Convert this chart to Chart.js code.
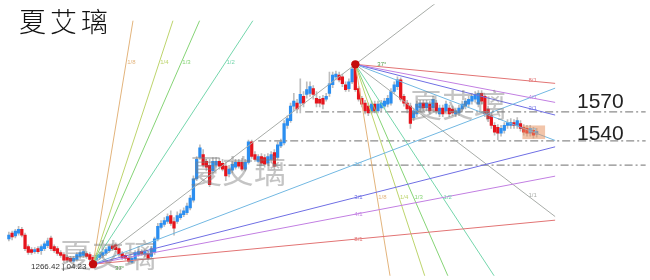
<!DOCTYPE html>
<html>
<head>
<meta charset="utf-8">
<script src="https://cdn.jsdelivr.net/npm/chart.js@4.4.0/dist/chart.umd.min.js"></script>
<style>
  html, body { margin: 0; padding: 0; background: #fff; }
  canvas { display: block; }
</style>
</head>
<body>
<canvas id="grafico" width="650" height="280"></canvas>
<script>
// velas: apertura / maximo / minimo / cierre
const aperturas = [
  1439,1445,1442,1445,1449,1443,1431,1428,1426,1429, 1427,1429,1432,1440,1431,1429,1425,1423,1420,1419,
  1416,1418,1421,1422,1424,1423,1420,1418,1420,1422, 1424,1427,1432,1433,1429,1424,1422,1419,1415,1418,
  1423,1426,1423,1424,1421,1425,1439,1451,1454,1457, 1463,1457,1457,1461,1464,1466,1471,1479,1501,1523,
  1526,1519,1515,1509,1515,1519,1517,1514,1506,1510, 1513,1518,1518,1511,1518,1539,1526,1519,1524,1523,
  1517,1521,1528,1523,1535,1538,1556,1561,1576,1579, 1579,1586,1588,1589,1594,1584,1583,1584,1583,1589,
  1598,1606,1608,1606,1598,1594,1601,1616,1594,1584, 1579,1576,1571,1578,1571,1574,1576,1578,1579,1591,
  1596,1603,1586,1579,1576,1564,1568,1574,1579,1574, 1578,1574,1579,1568,1574,1571,1574,1573,1568,1569,
  1573,1576,1578,1581,1583,1578,1589,1586,1573,1566, 1556,1554,1548,1551,1556,1556,1559,1556,1558,1554,
  1553,1548,1551,1547
];
const maximos = [
  1446,1447,1449,1452,1451,1445,1433,1430,1430,1431, 1433,1436,1440,1442,1433,1431,1427,1425,1422,1421,
  1421,1425,1427,1428,1426,1425,1422,1424,1425,1427, 1430,1433,1434,1435,1431,1426,1424,1421,1421,1427,
  1428,1428,1428,1426,1431,1441,1455,1458,1461,1465, 1468,1461,1467,1469,1471,1476,1484,1504,1524,1536,
  1531,1521,1521,1523,1523,1522,1521,1518,1515,1519, 1521,1521,1522,1521,1541,1541,1529,1526,1527,1526,
  1527,1529,1531,1539,1542,1561,1566,1579,1589,1583, 1604,1591,1601,1601,1597,1591,1586,1587,1589,1611,
  1611,1612,1611,1609,1601,1604,1617,1619,1596,1586, 1582,1579,1581,1581,1581,1582,1584,1587,1594,1601,
  1606,1605,1588,1582,1579,1574,1581,1582,1582,1582, 1581,1586,1582,1577,1577,1581,1577,1576,1574,1577,
  1581,1584,1586,1589,1591,1592,1592,1589,1576,1569, 1559,1557,1556,1559,1562,1563,1562,1564,1561,1557,
  1556,1556,1554,1553
];
const minimos = [
  1437,1438,1440,1443,1441,1427,1423,1423,1424,1424, 1423,1427,1430,1427,1425,1422,1420,1415,1415,1415,
  1414,1416,1419,1420,1419,1416,1413,1415,1418,1420, 1422,1425,1427,1426,1421,1418,1417,1414,1414,1416,
  1421,1422,1421,1417,1419,1423,1437,1449,1452,1455, 1453,1443,1455,1459,1462,1464,1469,1477,1499,1521,
  1513,1509,1493,1505,1513,1511,1509,1499,1503,1507, 1511,1512,1509,1509,1516,1522,1519,1517,1515,1513,
  1515,1518,1511,1521,1533,1536,1553,1559,1571,1569, 1569,1575,1584,1586,1583,1575,1575,1573,1581,1586,
  1595,1603,1601,1596,1591,1591,1599,1591,1581,1575, 1568,1566,1568,1569,1569,1571,1573,1575,1577,1589,
  1593,1581,1576,1569,1553,1561,1565,1571,1571,1571, 1568,1571,1568,1565,1565,1568,1565,1566,1565,1566,
  1570,1573,1575,1578,1580,1575,1578,1565,1560,1553, 1546,1541,1545,1548,1553,1553,1553,1553,1550,1546,
  1545,1545,1543,1544
];
const cierres = [
  1443,1441,1447,1449,1443,1429,1425,1425,1428,1426, 1431,1434,1437,1429,1427,1424,1422,1417,1417,1416,
  1419,1423,1425,1426,1421,1418,1415,1422,1423,1425, 1428,1431,1429,1428,1423,1420,1419,1416,1419,1425,
  1426,1424,1426,1419,1429,1439,1452,1455,1458,1462, 1455,1450,1463,1465,1468,1473,1481,1501,1521,1533,
  1515,1513,1495,1519,1519,1514,1511,1504,1511,1516, 1518,1514,1511,1518,1539,1524,1521,1524,1517,1516,
  1524,1526,1514,1536,1539,1558,1563,1576,1581,1573, 1588,1579,1593,1596,1588,1579,1579,1578,1586,1599,
  1608,1609,1603,1599,1593,1601,1614,1593,1583,1578, 1571,1569,1578,1571,1578,1579,1581,1584,1591,1598,
  1603,1583,1579,1573,1558,1571,1578,1579,1574,1579, 1571,1583,1571,1574,1568,1578,1568,1569,1571,1574,
  1578,1581,1583,1586,1588,1589,1581,1568,1563,1556, 1549,1548,1553,1556,1559,1559,1556,1561,1553,1549,
  1548,1553,1546,1550
];

// abanico de Gann
const fanRatios = ['1/8', '1/4', '1/3', '1/2', '1/1', '2/1', '3/1', '4/1', '8/1'];
const fanColors = ['#e3b47c', '#bdd46c', '#86d476', '#74d6ac', '#a8aca8', '#72b8e2', '#6f6fe4', '#c27fe2', '#e27474'];
const fanEnd = 168.7;
const fanTop = 1664;

// niveles horizontales
const levels = [1570, 1540, 1515];
const levelStarts = [91.5, 77, 76.5];
const levelLabels = ['1570', '1540'];

// caja
const boxTime = [158.6, 165.6];
const boxPrice = [1542, 1556];

const lowText = '1266.42 | 04.23';
const marca = '夏艾璃';

const xMin = -1.44, xMax = 196.7;
const yMin = 1401, yMax = 1681;

const rojo = '#e5141c';
const azul = '#2b8ef0';

const lowIdx = minimos.indexOf(Math.min(...minimos));
const highIdx = maximos.indexOf(Math.max(...maximos));
const lowP = minimos[lowIdx];
const highP = maximos[highIdx];
const unit = (highP - lowP) / (highIdx - lowIdx);

function slopeOf(r) {
  const [a, b] = r.split('/').map(Number);
  return unit * b / a;
}

function linea(data, color, extra) {
  return Object.assign({
    type: 'line', data: data, borderColor: color, borderWidth: 1,
    pointRadius: 0, fill: false, tension: 0, order: 0
  }, extra || {});
}

const datasets = [];

// mechas
datasets.push({
  type: 'bar',
  data: aperturas.map((o, i) => ({ x: i, y: [minimos[i], maximos[i]] })),
  backgroundColor: '#bdbdbd', barThickness: 1, grouped: false, order: 3
});
// cuerpos
datasets.push({
  type: 'bar',
  data: aperturas.map((o, i) => ({ x: i, y: [o, cierres[i]] })),
  backgroundColor: aperturas.map((o, i) => cierres[i] >= o ? azul : rojo),
  barThickness: 2.6, grouped: false, order: 2
});

// niveles
levels.forEach((lv, k) => {
  datasets.push(linea([{ x: levelStarts[k], y: lv }, { x: xMax, y: lv }], '#8c8c8c',
    { borderWidth: 1.3, borderDash: [8, 3, 2, 3], order: 1 }));
});

// abanico desde el minimo (hacia arriba)
const fanUp = fanRatios.map((r, k) => {
  const s = slopeOf(r);
  let endX = r === '1/1' ? xMax : Math.min(fanEnd, lowIdx + (fanTop - lowP) / s);
  return { r, s, endX, color: fanColors[k] };
});
fanUp.forEach(f => {
  datasets.push(linea([{ x: lowIdx, y: lowP }, { x: f.endX, y: lowP + f.s * (f.endX - lowIdx) }], f.color));
});

// abanico desde el maximo (hacia abajo)
fanRatios.forEach((r, k) => {
  const s = slopeOf(r);
  datasets.push(linea([{ x: highIdx, y: highP }, { x: fanEnd, y: highP - s * (fanEnd - highIdx) }], fanColors[k]));
});

// puntos rojos
datasets.push({
  type: 'line', data: [{ x: lowIdx, y: lowP }, { x: highIdx, y: highP }],
  showLine: false, pointRadius: 4.2, pointBackgroundColor: '#c40c0c', pointBorderWidth: 0, order: -1
});

const textos = {
  id: 'textos',
  afterDatasetsDraw(chart) {
    const { ctx, scales: { x, y } } = chart;
    ctx.save();

    // caja naranja
    ctx.fillStyle = 'rgba(232,150,100,0.55)';
    const bx = x.getPixelForValue(boxTime[0]), bx2 = x.getPixelForValue(boxTime[1]);
    const by = y.getPixelForValue(boxPrice[1]), by2 = y.getPixelForValue(boxPrice[0]);
    ctx.fillRect(bx, by, bx2 - bx, by2 - by);

    // marcas de agua
    ctx.font = '32px "Noto Sans CJK SC"';
    ctx.fillStyle = 'rgba(125,125,125,0.45)';
    ctx.textBaseline = 'middle';
    ctx.textAlign = 'left';
    [[190, 171], [60, 255], [410, 105]].forEach(([px, py]) => {
      [...marca].forEach((ch, i) => ctx.fillText(ch, px + i * 32, py));
    });

    // titulo
    ctx.font = '300 27px "Noto Sans CJK SC"';
    ctx.fillStyle = '#111';
    [...marca].forEach((ch, i) => ctx.fillText(ch, 19 + i * 31, 22));

    // etiquetas de nivel
    ctx.font = '21px "Liberation Sans", Arial';
    ctx.fillStyle = '#222';
    levelLabels.forEach((t, k) => ctx.fillText(t, 577, y.getPixelForValue(levels[k]) - (k === 0 ? 10 : 7)));

    // precio minimo
    ctx.font = '8px "Liberation Sans", Arial';
    ctx.fillStyle = '#333';
    ctx.fillText(lowText, 31, y.getPixelForValue(lowP) + 3);

    // etiquetas del abanico
    ctx.font = '6px "Liberation Sans", Arial';
    const ox = x.getPixelForValue(lowIdx), oy = y.getPixelForValue(lowP);
    const hx = x.getPixelForValue(highIdx), hy = y.getPixelForValue(highP);
    fanRatios.forEach((r, k) => {
      const s = slopeOf(r);
      ctx.fillStyle = fanColors[k];
      if (r === '1/1') {
        const lx = 161.7;
        ctx.fillText(r, x.getPixelForValue(lx) - 4, y.getPixelForValue(highP - s * (lx - highIdx)) - 4);
        return;
      }
      if (s > unit) {
        // empinadas
        const t1 = lowIdx + (highP + 2 - lowP) / s;
        ctx.fillText(r, x.getPixelForValue(t1) + 1, hy - 2);
        const p2 = 1482;
        const t2 = highIdx + (highP - p2) / s;
        ctx.fillText(r, x.getPixelForValue(t2) + 1, y.getPixelForValue(p2));
      } else {
        ctx.fillText(r, hx - 1, y.getPixelForValue(lowP + s * (highIdx - lowIdx)));
        const lx = 161.7;
        ctx.fillText(r, x.getPixelForValue(lx) - 4, y.getPixelForValue(highP - s * (lx - highIdx)) - 1);
      }
    });

    // angulo
    const ang = Math.round(Math.atan2(oy - hy, hx - ox) * 180 / Math.PI) + '°';
    ctx.fillStyle = '#4f9a46';
    ctx.fillText(ang, ox + 22, oy + 4);
    ctx.fillText(ang, hx + 22, hy);

    ctx.restore();
  }
};

const grafico = document.getElementById('grafico');
const chart = new Chart(grafico.getContext('2d'), {
  type: 'bar',
  data: { datasets: datasets },
  options: {
    responsive: false,
    animation: false,
    devicePixelRatio: 1,
    layout: { padding: 0 },
    plugins: { legend: { display: false }, tooltip: { enabled: false } },
    scales: {
      x: { type: 'linear', min: xMin, max: xMax, display: false, offset: false, stacked: false },
      y: { min: yMin, max: yMax, display: false, stacked: false }
    }
  },
  plugins: [textos]
});
</script>
</body>
</html>
